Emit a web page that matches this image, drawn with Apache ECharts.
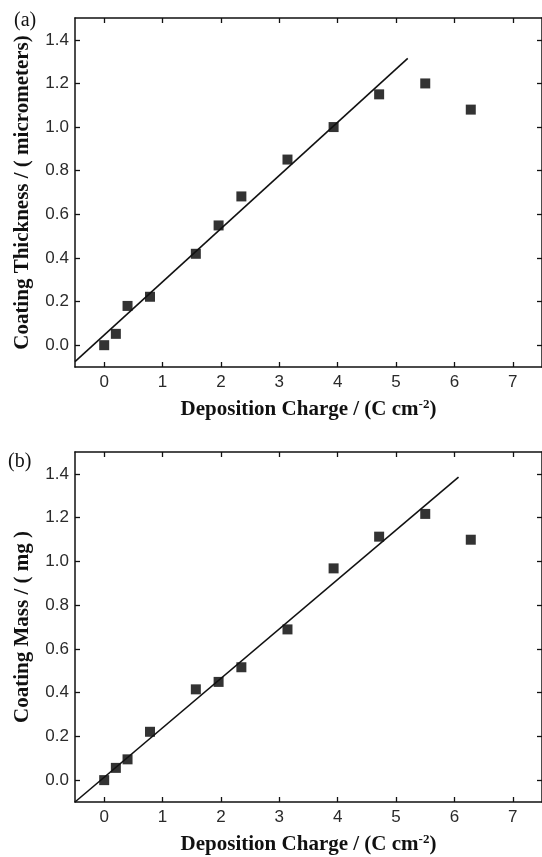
<!DOCTYPE html>
<html>

<head>
    <meta charset="utf-8">
    <script src="https://cdn.jsdelivr.net/npm/echarts@6/dist/echarts.min.js"></script>
</head>

<body>
    <div id="chart"></div>
</body>
<style>
    body {
        margin: 0;
        background: #fff;
    }

    #chart {
        width: 542px;
        height: 857px;
    }
</style>
<script>
    // deposition charge (C cm-2), same for both panels
    const charge = [0, 0.2, 0.4, 0.785, 1.57, 1.96, 2.35, 3.14, 3.93, 4.71, 5.5, 6.28]
    // (a) coating thickness, micrometers
    const thickness = [0, 0.052, 0.18, 0.222, 0.419, 0.549, 0.682, 0.851, 1.0, 1.15, 1.2, 1.08]
    // (b) coating mass, mg
    const mass = [0, 0.056, 0.095, 0.221, 0.415, 0.449, 0.516, 0.689, 0.968, 1.113, 1.217, 1.099]
    // linear fits, end points [x, y]
    const fitThickness = [[-0.5, -0.075], [5.2, 1.315]]
    const fitMass = [[-0.5, -0.1], [6.07, 1.385]]

    const xTicks = [0, 1, 2, 3, 4, 5, 6, 7]
    const yTicks = [0, 0.2, 0.4, 0.6, 0.8, 1.0, 1.2, 1.4]

    const chart = echarts.init(document.getElementById('chart'))

    const black = '#111'
    const tickFont = { fontFamily: 'Liberation Sans', fontSize: 17, color: '#2a2a2a' }
    const nameFont = { fontFamily: 'Liberation Serif', fontWeight: 'bold', fontSize: 21, color: '#111' }
    const tickStyle = { color: black, width: 1.3 }

    function bottomAxis(gridIndex) {
        return {
            type: 'value', gridIndex, position: 'bottom',
            min: -0.5, max: 7.5,
            splitLine: { show: false },
            axisLine: { onZero: false, lineStyle: { color: black, width: 1.5 } },
            axisTick: { inside: true, length: 5, lineStyle: tickStyle, customValues: xTicks },
            axisLabel: Object.assign({ margin: 7, customValues: xTicks }, tickFont),
            name: 'Deposition Charge / (C cm{sup|-2})',
            nameLocation: 'middle',
            nameGap: 31,
            nameTextStyle: Object.assign({
                rich: {
                    sup: { fontFamily: 'Liberation Serif', fontWeight: 'bold', fontSize: 13, verticalAlign: 'top', padding: [0, 0, 10, 0], color: '#111' }
                }
            }, nameFont)
        }
    }

    function topAxis(gridIndex) {
        return {
            type: 'value', gridIndex, position: 'top',
            min: -0.5, max: 7.5,
            splitLine: { show: false },
            axisLine: { onZero: false, lineStyle: { color: black, width: 1.5 } },
            axisTick: { inside: true, length: 5, lineStyle: tickStyle, customValues: xTicks },
            axisLabel: { show: false }
        }
    }

    function leftAxis(gridIndex, name) {
        return {
            type: 'value', gridIndex, position: 'left',
            min: -0.1, max: 1.5,
            splitLine: { show: false },
            axisLine: { onZero: false, lineStyle: { color: black, width: 1.5 } },
            axisTick: { inside: true, length: 5, lineStyle: tickStyle, customValues: yTicks },
            axisLabel: Object.assign({ margin: 6, customValues: yTicks, formatter: v => v.toFixed(1) }, tickFont),
            name,
            nameLocation: 'middle',
            nameGap: 42,
            nameTextStyle: nameFont
        }
    }

    function rightAxis(gridIndex) {
        return {
            type: 'value', gridIndex, position: 'right',
            min: -0.1, max: 1.5,
            splitLine: { show: false },
            axisLine: { onZero: false, lineStyle: { color: black, width: 1.5 } },
            axisTick: { inside: true, length: 5, lineStyle: tickStyle, customValues: yTicks },
            axisLabel: { show: false }
        }
    }

    const option = {
        backgroundColor: '#fff',
        animation: false,
        grid: [
            { left: 75, width: 469, top: 18, height: 349 },
            { left: 75, width: 469, top: 452, height: 350 }
        ],
        xAxis: [bottomAxis(0), topAxis(0), bottomAxis(1), topAxis(1)],
        yAxis: [
            leftAxis(0, 'Coating Thickness / ( micrometers)'), rightAxis(0),
            leftAxis(1, 'Coating Mass / ( mg )'), rightAxis(1)
        ],
        graphic: [
            { type: 'text', left: 14, top: 11, style: { text: '(a)', font: '20px "Liberation Serif"', fill: '#111' } },
            { type: 'text', left: 8, top: 452, style: { text: '(b)', font: '20px "Liberation Serif"', fill: '#111' } }
        ],
        series: [
            {
                type: 'line', xAxisIndex: 0, yAxisIndex: 0,
                data: fitThickness, symbol: 'none',
                lineStyle: { color: black, width: 1.6 }
            },
            {
                type: 'scatter', xAxisIndex: 0, yAxisIndex: 0,
                data: charge.map((c, i) => [c, thickness[i]]),
                symbol: 'rect', symbolSize: 10,
                itemStyle: { color: '#000' }
            },
            {
                type: 'line', xAxisIndex: 2, yAxisIndex: 2,
                data: fitMass, symbol: 'none',
                lineStyle: { color: black, width: 1.6 }
            },
            {
                type: 'scatter', xAxisIndex: 2, yAxisIndex: 2,
                data: charge.map((c, i) => [c, mass[i]]),
                symbol: 'rect', symbolSize: 10,
                itemStyle: { color: '#000' }
            }
        ]
    }

    chart.setOption(option)
</script>

</html>
